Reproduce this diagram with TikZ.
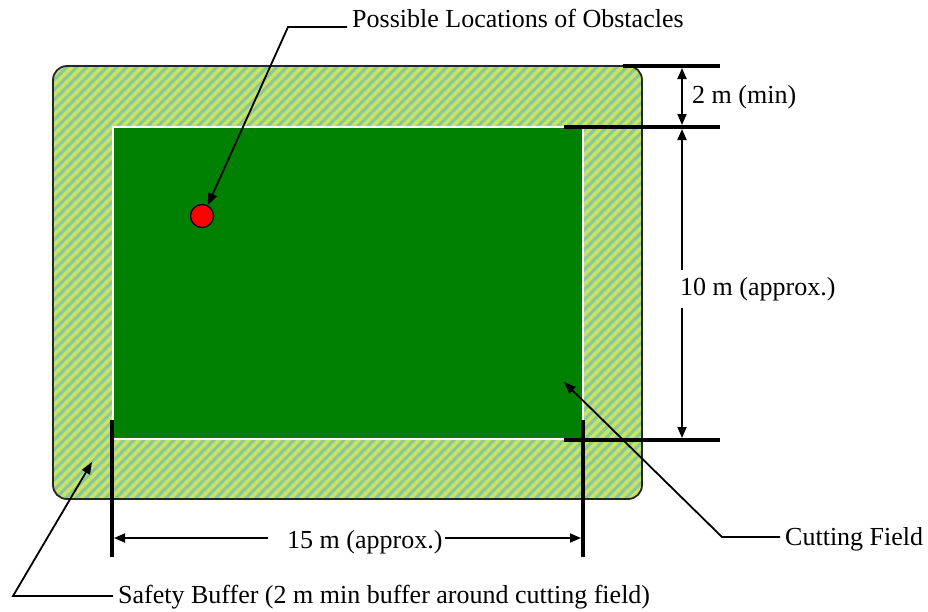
\documentclass[tikz,border=0pt]{standalone}
\usepackage{fontspec}
\setmainfont{Liberation Serif}
\usetikzlibrary{arrows.meta}
\definecolor{fieldgreen}{RGB}{0,128,0}
\definecolor{hatchA}{RGB}{200,228,100}
\definecolor{hatchB}{RGB}{140,198,156}
\begin{document}
\begin{tikzpicture}[x=1pt,y=-1pt,
  lbl/.style={font=\fontsize{26}{30}\selectfont, inner sep=0pt},
  thickbar/.style={line width=4pt},
  dimarrow/.style={line width=1.8pt, -{Triangle[length=11pt,width=9pt]}},
  dimboth/.style={line width=1.8pt, {Triangle[length=11pt,width=9pt]}-{Triangle[length=11pt,width=9pt]}},
  leader/.style={line width=1.8pt, -{Triangle[length=12pt,width=9pt]}}]
\useasboundingbox (0,0) rectangle (928,611);

% safety buffer (hatched)
\path[fill=hatchB, rounded corners=14pt] (53,66) rectangle (642,499);
\begin{scope}
  \clip[rounded corners=14pt] (53,66) rectangle (642,499);
  \foreach \x in {-440,-430,...,650}
    \draw[hatchA, line width=3.6pt] (\x,499) -- ++(433,-433);
\end{scope}
\draw[line width=1.8pt, black!85, rounded corners=14pt] (53,66) rectangle (642,499);

% cutting field
\draw[fill=fieldgreen, draw=white, line width=2.5pt] (113,127) rectangle (583,439);

% obstacle
\node[circle, fill=red, draw=black, line width=1.3pt, minimum size=23pt, inner sep=0pt] (obst) at (202,216) {};

% dimension bars
\draw[thickbar] (623,66) -- (720,66);
\draw[thickbar] (564,127) -- (720,127);
\draw[thickbar] (564,440) -- (720,440);
\draw[thickbar] (112,420) -- (112,557);
\draw[thickbar] (583,420) -- (583,557);

% vertical dimensions
\coordinate (t1) at (682,68);
\coordinate (t2) at (682,125);
\coordinate (t3) at (682,129);
\coordinate (t4) at (682,438);
\draw[dimboth] (t1) -- (t2);
\draw[dimboth] (t3) -- (t4);
\node[lbl, anchor=base west] (twom) at (692,103) {2 m (min)};
\node[lbl, anchor=base west, fill=white, inner xsep=2pt, inner ysep=7pt] (tenm) at (678,295) {10 m (approx.)};

% horizontal dimension
\node[lbl, anchor=base west] (fifteen) at (287,548) {15 m (approx.)};
\coordinate (hL) at (268,538);
\coordinate (hR) at (445,538);
\coordinate (hLend) at (114,538);
\coordinate (hRend) at (581,538);
\draw[dimarrow] (hL) -- (hLend);
\draw[dimarrow] (hR) -- (hRend);

% callouts
\node[lbl, anchor=base west] (plabel) at (352,27) {Possible Locations of Obstacles};
\coordinate (pk) at (288,27);
\draw[leader] ([xshift=-5pt]plabel.base west) -- (pk) -- (obst.62);

\node[lbl, anchor=base west] (clabel) at (785,545) {Cutting Field};
\coordinate (ck) at (722,537);
\coordinate (ctip) at (564,382);
\draw[leader] (780,537) -- (ck) -- (ctip);

\node[lbl, anchor=base west] (slabel) at (118,603) {Safety Buffer (2 m min buffer around cutting field)};
\coordinate (sk) at (13,596);
\coordinate (stip) at (92,462);
\draw[leader] (113,596) -- (sk) -- (stip);
\end{tikzpicture}
\end{document}
